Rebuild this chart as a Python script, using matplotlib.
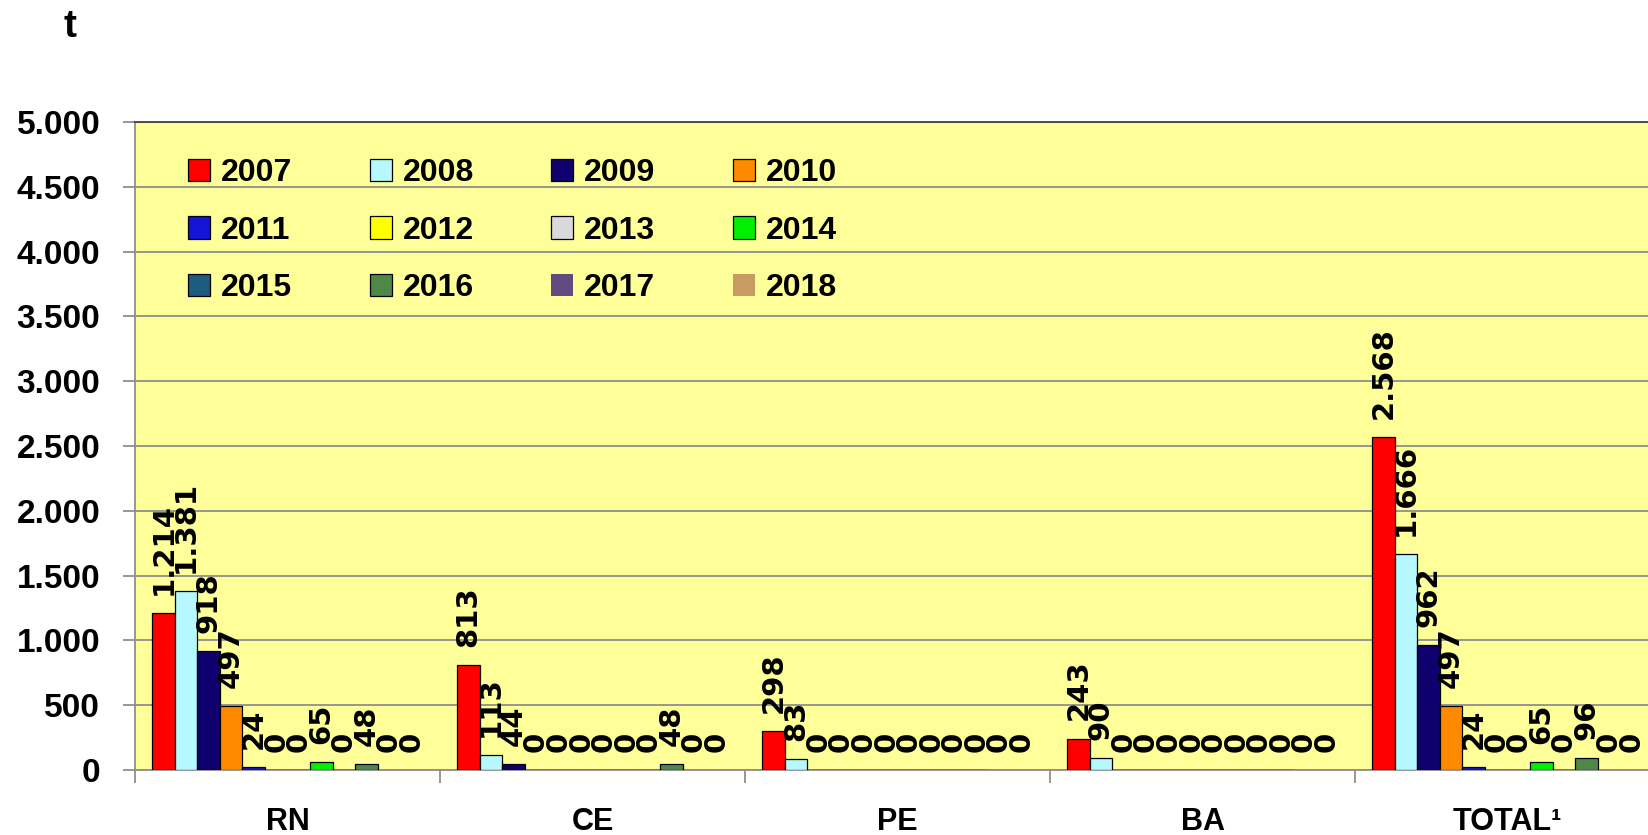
import matplotlib
matplotlib.use('Agg')
import matplotlib.pyplot as plt
from matplotlib.ticker import FixedLocator, FuncFormatter

# data
categories = ['RN', 'CE', 'PE', 'BA', 'TOTAL¹']
years = ['2007', '2008', '2009', '2010', '2011', '2012',
         '2013', '2014', '2015', '2016', '2017', '2018']
v2007 = [1214, 813, 298, 243, 2568]
v2008 = [1381, 113, 83, 90, 1666]
v2009 = [918, 44, 0, 0, 962]
v2010 = [497, 0, 0, 0, 497]
v2011 = [24, 0, 0, 0, 24]
v2012 = [0, 0, 0, 0, 0]
v2013 = [0, 0, 0, 0, 0]
v2014 = [65, 0, 0, 0, 65]
v2015 = [0, 0, 0, 0, 0]
v2016 = [48, 48, 0, 0, 96]
v2017 = [0, 0, 0, 0, 0]
v2018 = [0, 0, 0, 0, 0]
series = [v2007, v2008, v2009, v2010, v2011, v2012,
          v2013, v2014, v2015, v2016, v2017, v2018]

colors = ['#FF0000', '#B5F8FF', '#10006E', '#FF8A00', '#1414D8', '#FFFF00',
          '#D9D9D9', '#00F000', '#1E5C7E', '#4F8746', '#5F4B7F', '#C89B62']
edges = ['black'] * 10 + ['none', 'none']


def fmt_pt(v, pos=None):
    return f'{int(v):,}'.replace(',', '.')


lab_font = 'Liberation Sans'

fig = plt.figure(figsize=(16.48, 8.35), dpi=100)
ax = fig.add_axes([135 / 1648, 65 / 835, 1525 / 1648, 648 / 835])
ax.set_facecolor('#FFFF99')

bar_w = 0.074
start = (1 - 12 * bar_w) / 2
containers = []
for i, vals in enumerate(series):
    xs = [c + start + (i + 0.5) * bar_w for c in range(len(categories))]
    bc = ax.bar(xs, vals, width=bar_w, color=colors[i], edgecolor=edges[i],
                linewidth=0.9, label=years[i], zorder=3)
    containers.append(bc)
    ax.bar_label(bc, labels=[fmt_pt(v) for v in vals], rotation=90,
                 padding=13, fontsize=21, fontweight='bold',
                 family='DejaVu Sans', zorder=4)

ax.set_xlim(0, len(categories))
ax.set_ylim(0, 5000)
ax.yaxis.set_major_locator(FixedLocator(range(0, 5001, 500)))
ax.yaxis.set_major_formatter(FuncFormatter(fmt_pt))
ax.grid(axis='y', color='#8F8F8F', linewidth=1.3, zorder=1)

# category boundaries as major ticks, names on minor ticks
ax.xaxis.set_major_locator(FixedLocator(range(len(categories) + 1)))
ax.xaxis.set_major_formatter(FuncFormatter(lambda v, p: ''))
ax.xaxis.set_minor_locator(FixedLocator([c + 0.5 for c in range(len(categories))]))
ax.set_xticklabels(categories, minor=True)
ax.tick_params(axis='x', which='major', length=9, width=1.3, color='#8F8F8F')
ax.tick_params(axis='x', which='minor', length=0, pad=27)
ax.tick_params(axis='y', length=9, width=1.3, color='#8F8F8F', pad=16)
for t in ax.get_xticklabels(minor=True):
    t.set_fontfamily(lab_font)
    t.set_fontweight('bold')
    t.set_fontsize(22)
for t in ax.get_yticklabels():
    t.set_fontfamily(lab_font)
    t.set_fontweight('bold')
    t.set_fontsize(24)

for s in ['left', 'bottom']:
    ax.spines[s].set_color('#8F8F8F')
    ax.spines[s].set_linewidth(1.3)
ax.spines['top'].set_color('#404040')
ax.spines['top'].set_linewidth(1.3)
ax.spines['right'].set_visible(False)

# legend, row-major order like the original
order = [0, 4, 8, 1, 5, 9, 2, 6, 10, 3, 7, 11]
handles = [containers[k] for k in order]
ax.legend(handles, [years[k] for k in order], ncol=4, loc='upper left',
          bbox_to_anchor=(0.0348, 0.944), frameon=False,
          prop={'family': lab_font, 'weight': 'bold', 'size': 23},
          handlelength=0.7, handleheight=0.7, handletextpad=0.33,
          columnspacing=2.42, labelspacing=0.86, borderpad=0, borderaxespad=0)

fig.text(70 / 1648, 1 - 27 / 835, 't', ha='center', va='center',
         fontsize=28, fontweight='bold', family=lab_font)

fig.savefig('out.png', dpi=100)
